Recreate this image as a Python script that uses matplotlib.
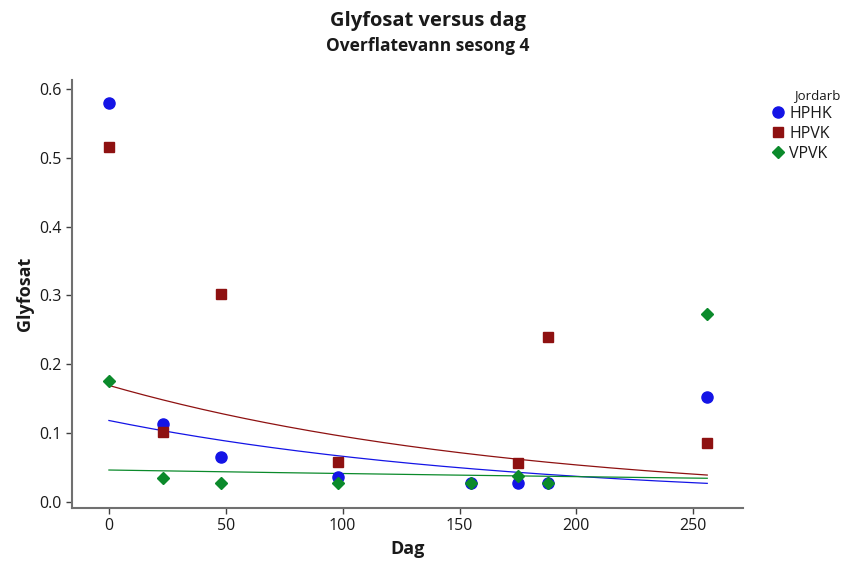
import numpy as np
import matplotlib
matplotlib.use("Agg")
import matplotlib.pyplot as plt

plt.rcParams['font.family'] = ['Open Sans', 'DejaVu Sans']

# ---------------- data ----------------
dag = [0, 23, 48, 98, 155, 175, 188, 256]
hphk = [0.580, 0.113, 0.065, 0.036, 0.027, 0.027, 0.027, 0.152]
hpvk = [0.515, 0.101, 0.302, 0.057, np.nan, 0.056, 0.240, 0.086]
vpvk = [0.176, 0.034, 0.027, 0.027, 0.027, 0.037, 0.027, 0.273]

# exponential fits y = a * exp(-b * dag)
fit_a = {'HPHK': 0.118, 'HPVK': 0.169, 'VPVK': 0.046}
fit_b = {'HPHK': 0.00582, 'HPVK': 0.00576, 'VPVK': 0.00118}

groups = ['HPHK', 'HPVK', 'VPVK']
values = {'HPHK': hphk, 'HPVK': hpvk, 'VPVK': vpvk}
colors = {'HPHK': '#1414E6', 'HPVK': '#8E1111', 'VPVK': '#0B8A2B'}
markers = {'HPHK': 'o', 'HPVK': 's', 'VPVK': 'D'}
msize = {'HPHK': 8, 'HPVK': 6.5, 'VPVK': 6}

fig = plt.figure(figsize=(8.45, 5.70), dpi=100)
ax = fig.add_axes([0.0852, 0.1088, 0.7941, 0.7508])

xs = np.linspace(0, 256, 200)
for g in groups:
    ax.plot(dag, values[g], linestyle='none', marker=markers[g],
            color=colors[g], markersize=msize[g], label=g, zorder=3)
    ax.plot(xs, fit_a[g] * np.exp(-fit_b[g] * xs), color=colors[g],
            linewidth=0.9, zorder=2)

ax.set_xlim(-15.8, 271.3)
ax.set_ylim(-0.0092, 0.613)
ax.set_xticks([0, 50, 100, 150, 200, 250])
ax.set_yticks([0.0, 0.1, 0.2, 0.3, 0.4, 0.5, 0.6])
ax.set_yticklabels(['0.0', '0.1', '0.2', '0.3', '0.4', '0.5', '0.6'])

for s in ['top', 'right']:
    ax.spines[s].set_visible(False)
for s in ['left', 'bottom']:
    ax.spines[s].set_color('#707070')
    ax.spines[s].set_linewidth(1.5)
ax.tick_params(colors='#404040', labelcolor='#1a1a1a', labelsize=11.5,
               length=4, width=1)

ax.set_xlabel('Dag', fontsize=13, fontweight='bold', color='#1a1a1a')
ax.set_ylabel('Glyfosat', fontsize=13, fontweight='bold', color='#1a1a1a')

fig.text(0.506, 0.963, 'Glyfosat versus dag', ha='center', va='center',
         fontsize=14.5, fontweight='bold', color='#1a1a1a')
fig.text(0.506, 0.919, 'Overflatevann sesong 4', ha='center', va='center',
         fontsize=12.5, fontweight='bold', color='#1a1a1a')

# legend
fig.text(794 / 845, 1 - 96 / 570, 'Jordarb', ha='left', va='center',
         fontsize=9.5, color='#1a1a1a')
leg = ax.legend(loc='upper left', bbox_to_anchor=(770 / 845, 1 - 106 / 570),
                bbox_transform=fig.transFigure, frameon=False, fontsize=11.5,
                handlelength=1.0, handletextpad=0.2, labelspacing=0.25,
                borderpad=0, borderaxespad=0)
for t in leg.get_texts():
    t.set_color('#1a1a1a')

fig.savefig('out.png', dpi=100)
